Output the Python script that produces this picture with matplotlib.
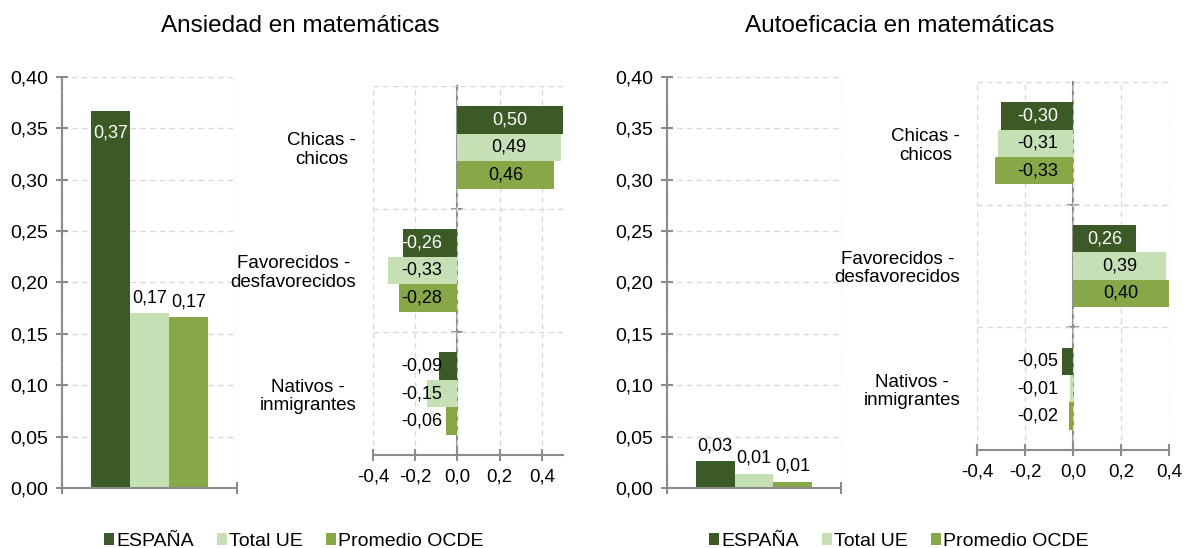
import matplotlib.pyplot as plt
from matplotlib.ticker import FuncFormatter

plt.rcParams["font.family"] = ["Liberation Sans", "DejaVu Sans"]

series = ["ESPAÑA", "Total UE", "Promedio OCDE"]
colores = ["#3b5a25", "#c5e0b4", "#86a846"]
categorias = ["Chicas -\nchicos", "Favorecidos -\ndesfavorecidos", "Nativos -\ninmigrantes"]

# Ansiedad en matemáticas
ansiedad_global = [0.367, 0.170, 0.166]
ansiedad_espana = [0.50, -0.259, -0.089]
ansiedad_ue = [0.489, -0.329, -0.146]
ansiedad_ocde = [0.457, -0.275, -0.056]

# Autoeficacia en matemáticas
autoef_global = [0.026, 0.014, 0.006]
autoef_espana = [-0.30, 0.262, -0.046]
autoef_ue = [-0.312, 0.388, -0.012]
autoef_ocde = [-0.326, 0.40, -0.017]

GRIS = "#8c8c8c"
GRID = "#d9d9d9"
FS = 13


def fmt(v, pos=None):
    return f"{v:.2f}".replace(".", ",")


def fmt1(v, pos=None):
    return f"{v:.1f}".replace(".", ",").replace("-0,0", "0,0")


def barras_verticales(ax, valores):
    w = 0.223
    barras = []
    for i, (v, c) in enumerate(zip(valores, colores)):
        x = (i - 1) * w
        b = ax.bar(x, v, width=w, color=c, label=series[i])
        barras.append(b[0])
        if v > 0.3:
            ax.annotate(fmt(v), (x, v), xytext=(0, -10), textcoords="offset points",
                        ha="center", va="top", color="white", fontsize=FS)
        else:
            ax.annotate(fmt(v), (x, v), xytext=(0, 5), textcoords="offset points",
                        ha="center", va="bottom", color="black", fontsize=FS)
    ax.set_xlim(-0.5, 0.5)
    ax.set_ylim(0, 0.40)
    ax.set_yticks([i * 0.05 for i in range(9)])
    ax.yaxis.set_major_formatter(FuncFormatter(fmt))
    ax.set_xticks([-0.5, 0.5])
    ax.set_xticklabels([])
    ax.grid(True, color=GRID, linestyle=(0, (4, 3)), linewidth=1)
    ax.set_axisbelow(True)
    for s in ["top", "right"]:
        ax.spines[s].set_visible(False)
    for s in ["left", "bottom"]:
        ax.spines[s].set_color(GRIS)
        ax.spines[s].set_linewidth(1.5)
    ax.tick_params(axis="both", direction="inout", length=8, width=1.5, color=GRIS,
                   labelsize=14, pad=6)
    return barras


def barras_horizontales(ax, listas, xmin, xmax):
    h = 0.223
    n = len(categorias)
    for j, (vals, c) in enumerate(zip(listas, colores)):
        for k, v in enumerate(vals):
            y = n - 0.5 - k + (1 - j) * h
            ax.barh(y, v, height=h, color=c)
            color_txt = "white" if (j == 0 and abs(v) >= 0.2) else "black"
            if v >= 0:
                ax.text(v / 2, y, fmt(v), ha="center", va="center",
                        color=color_txt, fontsize=FS)
            else:
                ax.annotate(fmt(v), (0, y), xytext=(-11, 0), textcoords="offset points",
                            ha="right", va="center", color=color_txt, fontsize=FS)
    ax.set_xlim(xmin, xmax)
    ax.set_ylim(0, n)
    ax.set_xticks([-0.4, -0.2, 0.0, 0.2, 0.4])
    ax.xaxis.set_major_formatter(FuncFormatter(fmt1))
    ax.set_yticks(range(n + 1))
    ax.set_yticklabels([])
    ax.set_yticks([n - 0.5 - k for k in range(n)], minor=True)
    ax.set_yticklabels(categorias, minor=True, fontsize=13.5, linespacing=1.1)
    for t in ax.get_yticklabels(minor=True):
        t.set_horizontalalignment("right")
        t.set_multialignment("center")
    ax.tick_params(axis="y", which="both", length=0)
    ax.tick_params(axis="y", which="minor", pad=12)
    ax.grid(True, color=GRID, linestyle=(0, (4, 3)), linewidth=1)
    ax.set_axisbelow(True)
    for s in ["top", "right", "left"]:
        ax.spines[s].set_visible(False)
    ax.spines["bottom"].set_color(GRIS)
    ax.spines["bottom"].set_linewidth(1.5)
    ax.tick_params(axis="x", direction="inout", length=8, width=1.5, color=GRIS,
                   labelsize=13.5, pad=6)
    eje0 = ax.secondary_yaxis(0, transform=ax.transData)
    eje0.set_yticks(range(1, n))
    eje0.set_yticklabels([])
    eje0.spines["left"].set_color(GRIS)
    eje0.spines["left"].set_linewidth(1.5)
    eje0.tick_params(direction="inout", length=8, width=1.5, color=GRIS)


fig = plt.figure(figsize=(11.86, 5.48), dpi=100)

ax1 = fig.add_axes([0.0523, 0.1095, 0.1476, 0.75])
handles = barras_verticales(ax1, ansiedad_global)
ax2 = fig.add_axes([0.3145, 0.1697, 0.1602, 0.6734])
barras_horizontales(ax2, [ansiedad_espana, ansiedad_ue, ansiedad_ocde], -0.4, 0.5)

ax3 = fig.add_axes([0.5624, 0.1095, 0.1467, 0.75])
barras_verticales(ax3, autoef_global)
ax4 = fig.add_axes([0.8238, 0.1788, 0.1619, 0.6715])
barras_horizontales(ax4, [autoef_espana, autoef_ue, autoef_ocde], -0.4, 0.4)

fig.text(0.253, 0.952, "Ansiedad en matemáticas", ha="center", va="center", fontsize=17.5)
fig.text(0.759, 0.952, "Autoeficacia en matemáticas", ha="center", va="center", fontsize=17.5)

for xc in [0.248, 0.758]:
    fig.legend(handles, series, loc="center", bbox_to_anchor=(xc, 0.012), ncol=3,
               frameon=False, fontsize=14, handlelength=0.5, handleheight=0.5,
               handletextpad=0.12, columnspacing=1.2)

fig.savefig("out.png", dpi=100)
